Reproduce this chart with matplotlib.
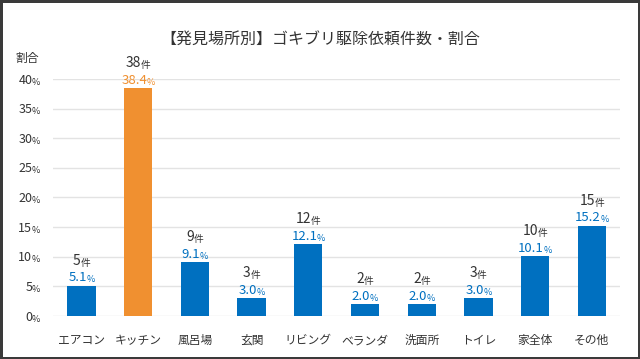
import matplotlib
matplotlib.use('Agg')
import matplotlib.pyplot as plt

plt.rcParams['font.family'] = ['Noto Sans CJK JP', 'DejaVu Sans']

# data
places = ['エアコン', 'キッチン', '風呂場', '玄関', 'リビング', 'ベランダ', '洗面所', 'トイレ', '家全体', 'その他']
counts = [5, 38, 9, 3, 12, 2, 2, 3, 10, 15]
ratios = [5.1, 38.4, 9.1, 3.0, 12.1, 2.0, 2.0, 3.0, 10.1, 15.2]
yticks = [0, 5, 10, 15, 20, 25, 30, 35, 40]

blue = '#0070C0'
orange = '#F09030'
colors = [orange if p == 'キッチン' else blue for p in places]

fig = plt.figure(figsize=(6.4, 3.59), dpi=100, facecolor='white',
                 edgecolor='#3a3a3a', linewidth=2.5)
ax = fig.add_axes([0.083, 0.12, 0.886, 0.66])

x = range(len(places))
ax.bar(x, ratios, width=0.5, color=colors, zorder=2)

ax.set_ylim(0, 40)
ax.set_xlim(-0.5, len(places) - 0.5)
ax.set_yticks(yticks)
ax.yaxis.grid(True, color='#e3e3e3', linewidth=1, zorder=0)
ax.set_yticklabels([])
ax.tick_params(axis='y', length=0)
ax.tick_params(axis='x', length=0, pad=13, labelsize=8.5, labelcolor='#333333')
ax.set_xticks(list(x))
ax.set_xticklabels(places)
for s in ax.spines.values():
    s.set_visible(False)

pairs = []


def two_size(xy, coords, off, big, small, color, bsize, ssize, center=True):
    # number in normal size followed by a smaller unit
    t = ax.annotate(big, xy=xy, xycoords=coords, xytext=off,
                    textcoords='offset points', ha='right', va='bottom',
                    fontsize=bsize, color=color, annotation_clip=False)
    s = ax.annotate(small, xy=(1, 0), xycoords=t, xytext=(-0.3, 0),
                    textcoords='offset points', ha='left', va='bottom',
                    fontsize=ssize, color=color, annotation_clip=False)
    if center:
        pairs.append((t, s, xy))


# y tick labels with small %
trans = ax.get_yaxis_transform()
for v in yticks:
    two_size((0, v), trans, (-15, -5.5), str(v), '%', '#333333', 9, 6.5, center=False)

ax.text(-0.045, 1.085, '割合', transform=ax.transAxes, ha='center', va='center',
        fontsize=8.5, color='#333333')

# bar labels
for i, (c, r, col) in enumerate(zip(counts, ratios, colors)):
    two_size((i, r), 'data', (0, 1), f'{r:.1f}', '%', col, 9.5, 6.5)
    two_size((i, r), 'data', (0, 13), str(c), '件', '#333333', 10, 7)

fig.text(0.5, 0.89, '【発見場所別】ゴキブリ駆除依頼件数・割合', ha='center', va='center',
         fontsize=11.5, color='#333333')

# center each number + unit pair over its bar
fig.canvas.draw()
r = fig.canvas.get_renderer()
for t, s, xy in pairs:
    b1 = t.get_window_extent(r)
    b2 = s.get_window_extent(r)
    mid = (b1.x0 + b2.x1) / 2
    target = ax.transData.transform(xy)[0]
    ox, oy = t.xyann
    t.xyann = (ox + (target - mid) * 72 / fig.dpi, oy)

fig.savefig('out.png', dpi=100)
